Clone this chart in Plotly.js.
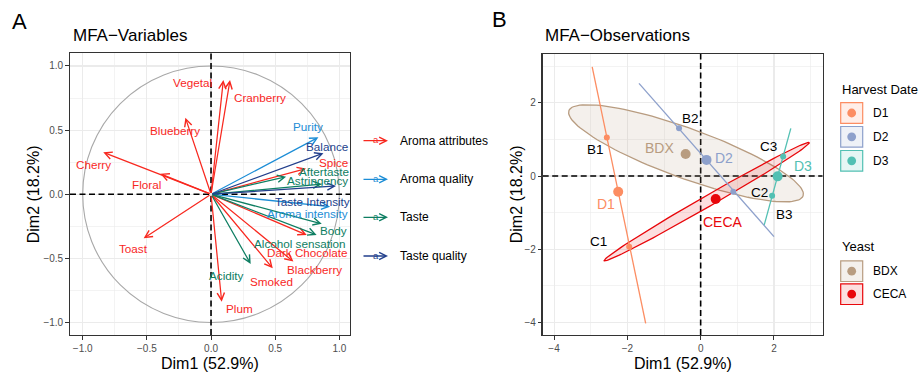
<!DOCTYPE html>
<html>
<head>
<meta charset="utf-8">
<script src="https://cdn.plot.ly/plotly-3.0.1.min.js"></script>
<style>html,body{margin:0;padding:0;background:#fff;}#chart{width:921px;height:372px;}</style>
</head>
<body>
<div id="chart"></div>
<script>
// ---------------- DATA ----------------
// Panel A: MFA variables (coordinates on Dim1 / Dim2)
const variables = ['Vegetal','Cranberry','Blueberry','Cherry','Floral','Toast','Spice','Dark Chocolate','Blackberry','Smoked','Plum',
                   'Purity','Aroma intensity',
                   'Aftertaste','Astringency','Body','Alcohol sensation','Acidity',
                   'Balance','Taste Intensity'];
const varGroup = ['Aroma attributes','Aroma attributes','Aroma attributes','Aroma attributes','Aroma attributes','Aroma attributes','Aroma attributes','Aroma attributes','Aroma attributes','Aroma attributes','Aroma attributes',
                  'Aroma quality','Aroma quality',
                  'Taste','Taste','Taste','Taste','Taste',
                  'Taste quality','Taste quality'];
const varDim1 = [0.096, 0.148, -0.200, -0.840, -0.395, -0.525, 0.740, 0.746, 0.642, 0.481, 0.083,
                 0.837, 0.928,
                 0.863, 0.585, 0.863, 0.823, 0.309,
                 0.876, 0.974];
const varDim2 = [0.890, 0.890, 0.597, 0.327, 0.160, -0.343, 0.200, -0.317, -0.525, -0.577, -0.837,
                 0.444, -0.097,
                 0.080, 0.137, -0.230, -0.317, -0.543,
                 0.320, 0.065];
// label anchor positions (data units) as placed in the reference
const labelDim1 = [-0.148, 0.384, -0.283, -0.914, -0.499, -0.608, 0.951, 0.748, 0.808, 0.470, 0.223,
                   0.753, 0.748,
                   0.878, 0.831, 0.956, 0.696, 0.119,
                   0.904, 0.787];
const labelDim2 = [0.875, 0.758, 0.499, 0.234, 0.075, -0.423, 0.244, -0.457, -0.587, -0.683, -0.891,
                   0.525, -0.151,
                   0.174, 0.109, -0.281, -0.384, -0.631,
                   0.369, -0.060];
const groupNames = ['Aroma attributes','Aroma quality','Taste','Taste quality'];

// Panel B: individuals
const indNames = ['B1','C1','B2','C2','B3','C3'];
const indHarvest = ['D1','D1','D2','D2','D3','D3'];
const indDim1 = [-2.56, -1.95, -0.59, 0.89, 1.95, 2.25];
const indDim2 = [1.05, -1.93, 1.30, -0.43, -0.54, 0.53];
const indLabelDim1 = [-2.88, -2.79, -0.27, 1.60, 2.30, 1.845];
const indLabelDim2 = [0.71, -1.79, 1.57, -0.45, -1.04, 0.80];

const harvestNames = ['D1','D2','D3'];
const harvestMeanDim1 = [-2.25, 0.16, 2.10];
const harvestMeanDim2 = [-0.43, 0.44, -0.01];
const harvestLabelDim1 = [-2.58, 0.635, 2.80];
const harvestLabelDim2 = [-0.76, 0.482, 0.27];
// degenerate (two-point) confidence ellipses = segments
const harvestLineDim1 = [[-2.96, -1.50], [-1.683, 2.00], [1.735, 2.46]];
const harvestLineDim2 = [[2.98, -4.02], [2.53, -1.655], [-1.336, 1.30]];

const yeastNames = ['BDX','CECA'];
const yeastMeanDim1 = [-0.41, 0.41];
const yeastMeanDim2 = [0.60, -0.63];
const yeastLabelDim1 = [-1.11, 0.618];
const yeastLabelDim2 = [0.755, -1.245];
// ellipse geometry: centre, semi-axes, rotation (deg)
const yeastEllCx = [-0.40, 0.165];
const yeastEllCy = [0.62, -0.70];
const yeastEllA = [3.40, 3.23];
const yeastEllB = [0.68, 0.15];
const yeastEllAng = [-20.0, 29.94];

// ---------------- STYLE ----------------
const W = 921, H = 372;
const px = x => x / W;
const py = y => 1 - y / H;
const FONT = 'Liberation Sans, Arial, Helvetica, sans-serif';
const groupColor = {'Aroma attributes':'#F8281F','Aroma quality':'#1C8DD6','Taste':'#0E7E62','Taste quality':'#223F8C'};
const harvestColor = {'D1':'#FC8D62','D2':'#8DA0CB','D3':'#52C0B3'};
const harvestFill = {'D1':'rgba(252,141,98,0.15)','D2':'rgba(141,160,203,0.15)','D3':'rgba(82,192,179,0.15)'};
const yeastColor = {'BDX':'#B89C80','CECA':'#E8070B'};
const yeastFill = {'BDX':'rgba(184,156,128,0.15)','CECA':'rgba(232,7,11,0.13)'};
const XR1 = [-1.099, 1.083], YR1 = [-1.097, 1.101];
const XR2 = [-4.31, 3.33], YR2 = [-4.34, 3.33];
const DASH = {color:'#000', width:1.6, dash:'6px,3.5px'};

const traces = [];
const annotations = [];
const shapes = [];

// ---------- Panel A ----------
shapes.push({type:'circle', xref:'x', yref:'y', x0:-1, x1:1, y0:-1, y1:1, line:{color:'#A8A8A8', width:1.1}, layer:'between'});
shapes.push({type:'line', xref:'x', yref:'y', x0:0, x1:0, y0:YR1[0], y1:YR1[1], line:DASH, layer:'between'});
shapes.push({type:'line', xref:'x', yref:'y', x0:XR1[0], x1:XR1[1], y0:0, y1:0, line:DASH, layer:'between'});
// invisible trace to anchor axes
traces.push({type:'scatter', x:varDim1, y:varDim2, xaxis:'x', yaxis:'y', mode:'markers', marker:{opacity:0}, hoverinfo:'skip', showlegend:false});

variables.forEach((v, i) => {
  const c = groupColor[varGroup[i]];
  annotations.push({x:varDim1[i], y:varDim2[i], ax:0, ay:0, xref:'x', yref:'y', axref:'x', ayref:'y',
    text:'', showarrow:true, arrowhead:5, arrowsize:1.15, arrowwidth:1.25, arrowcolor:c, standoff:0});
});
variables.forEach((v, i) => {
  annotations.push({x:labelDim1[i], y:labelDim2[i], xref:'x', yref:'y', text:v, showarrow:false,
    xanchor:'center', yanchor:'middle', font:{family:FONT, size:11.7, color:groupColor[varGroup[i]]}});
});

// Legend A
const legAy = [140.7, 179.3, 217.3, 256];
groupNames.forEach((g, i) => {
  const c = groupColor[g];
  annotations.push({x:px(388), y:py(legAy[i]), xref:'paper', yref:'paper', ax:-26, ay:0, text:'', showarrow:true,
    arrowhead:5, arrowsize:1.1, arrowwidth:1.3, arrowcolor:c, standoff:0});
  annotations.push({x:px(375.5), y:py(legAy[i] - 0.8), xref:'paper', yref:'paper', text:'a', showarrow:false,
    xanchor:'center', yanchor:'middle', font:{family:FONT, size:9.5, color:c}});
  annotations.push({x:px(398), y:py(legAy[i]), xref:'paper', yref:'paper', text:g, showarrow:false,
    xanchor:'left', yanchor:'middle', font:{family:FONT, size:12, color:'#000'}});
});

// ---------- Panel B ----------
shapes.push({type:'line', xref:'x2', yref:'y2', x0:0, x1:0, y0:YR2[0], y1:YR2[1], line:DASH, layer:'between'});
shapes.push({type:'line', xref:'x2', yref:'y2', x0:XR2[0], x1:XR2[1], y0:0, y1:0, line:DASH, layer:'between'});

function ellipse(cx, cy, a, b, angDeg) {
  const t = angDeg * Math.PI / 180, xs = [], ys = [];
  for (let k = 0; k <= 120; k++) {
    const s = 2 * Math.PI * k / 120;
    const u = a * Math.cos(s), v = b * Math.sin(s);
    xs.push(cx + u * Math.cos(t) - v * Math.sin(t));
    ys.push(cy + u * Math.sin(t) + v * Math.cos(t));
  }
  return [xs, ys];
}
yeastNames.forEach((g, i) => {
  const [ex, ey] = ellipse(yeastEllCx[i], yeastEllCy[i], yeastEllA[i], yeastEllB[i], yeastEllAng[i]);
  traces.push({type:'scatter', x:ex, y:ey, xaxis:'x2', yaxis:'y2', mode:'lines', fill:'toself',
    fillcolor:yeastFill[g], line:{color:yeastColor[g], width:1.3}, hoverinfo:'skip', showlegend:false});
});
harvestNames.forEach((h, i) => {
  traces.push({type:'scatter', x:harvestLineDim1[i], y:harvestLineDim2[i], xaxis:'x2', yaxis:'y2', mode:'lines',
    line:{color:harvestColor[h], width:1.3}, hoverinfo:'skip', showlegend:false});
});
traces.push({type:'scatter', x:indDim1, y:indDim2, xaxis:'x2', yaxis:'y2', mode:'markers',
  marker:{size:6, color:indHarvest.map(h => harvestColor[h])}, hoverinfo:'skip', showlegend:false});
traces.push({type:'scatter', x:harvestMeanDim1, y:harvestMeanDim2, xaxis:'x2', yaxis:'y2', mode:'markers',
  marker:{size:10, color:harvestNames.map(h => harvestColor[h])}, hoverinfo:'skip', showlegend:false});
traces.push({type:'scatter', x:yeastMeanDim1, y:yeastMeanDim2, xaxis:'x2', yaxis:'y2', mode:'markers',
  marker:{size:10, color:yeastNames.map(g => yeastColor[g])}, hoverinfo:'skip', showlegend:false});

indNames.forEach((n, i) => {
  annotations.push({x:indLabelDim1[i], y:indLabelDim2[i], xref:'x2', yref:'y2', text:n, showarrow:false,
    xanchor:'center', yanchor:'middle', font:{family:FONT, size:13.5, color:'#000'}});
});
harvestNames.forEach((h, i) => {
  annotations.push({x:harvestLabelDim1[i], y:harvestLabelDim2[i], xref:'x2', yref:'y2', text:h, showarrow:false,
    xanchor:'center', yanchor:'middle', font:{family:FONT, size:14, color:harvestColor[h]}});
});
yeastNames.forEach((g, i) => {
  annotations.push({x:yeastLabelDim1[i], y:yeastLabelDim2[i], xref:'x2', yref:'y2', text:g, showarrow:false,
    xanchor:'center', yanchor:'middle', font:{family:FONT, size:14, color:yeastColor[g]}});
});

// Legend B
function legendKey(yc, col, fill) {
  shapes.push({type:'rect', xref:'paper', yref:'paper', x0:px(840.7), x1:px(862.7), y0:py(yc + 10.3), y1:py(yc - 10.3),
    line:{color:col, width:1.2}, fillcolor:fill});
  shapes.push({type:'circle', xref:'paper', yref:'paper', x0:px(851.7 - 4.4), x1:px(851.7 + 4.4), y0:py(yc + 4.4), y1:py(yc - 4.4),
    line:{width:0}, fillcolor:col});
}
annotations.push({x:px(840), y:py(89.5), xref:'paper', yref:'paper', text:'Harvest Date', showarrow:false,
  xanchor:'left', yanchor:'middle', font:{family:FONT, size:13, color:'#000'}});
const legBy = [113, 136.8, 160.8];
harvestNames.forEach((h, i) => {
  legendKey(legBy[i], harvestColor[h], harvestFill[h]);
  annotations.push({x:px(870.5), y:py(legBy[i]), xref:'paper', yref:'paper', text:h, showarrow:false,
    xanchor:'left', yanchor:'middle', font:{family:FONT, size:12, color:'#000'}});
});
annotations.push({x:px(840), y:py(246), xref:'paper', yref:'paper', text:'Yeast', showarrow:false,
  xanchor:'left', yanchor:'middle', font:{family:FONT, size:13, color:'#000'}});
const legYy = [271.2, 294.2];
yeastNames.forEach((g, i) => {
  legendKey(legYy[i], yeastColor[g], yeastFill[g]);
  annotations.push({x:px(870.5), y:py(legYy[i]), xref:'paper', yref:'paper', text:g, showarrow:false,
    xanchor:'left', yanchor:'middle', font:{family:FONT, size:12, color:'#000'}});
});

// Titles, panel letters, axis titles
const txt = (x, y, t, size, opts={}) => annotations.push(Object.assign({x:px(x), y:py(y), xref:'paper', yref:'paper', text:t, showarrow:false,
  xanchor:'center', yanchor:'middle', font:{family:FONT, size:size, color:'#000'}}, opts));
txt(19.5, 21.5, 'A', 22);
txt(499, 20, 'B', 22);
txt(70.5, 35.5, 'MFA−Variables', 17, {xanchor:'left'});
txt(542.5, 35.5, 'MFA−Observations', 17, {xanchor:'left'});
txt(210, 363, 'Dim1 (52.9%)', 16);
txt(682.5, 363, 'Dim1 (52.9%)', 16);
txt(33, 194.3, 'Dim2 (18.2%)', 16, {textangle:-90});
txt(516, 194.3, 'Dim2 (18.2%)', 16, {textangle:-90});

// ---------------- LAYOUT ----------------
const axBase = {
  showgrid:true, gridcolor:'#EBEBEB', gridwidth:1.1, zeroline:false,
  showline:true, mirror:true, linecolor:'#333333', linewidth:1.3,
  ticks:'outside', ticklen:3.5, tickwidth:1, tickcolor:'#333333',
  tickfont:{family:FONT, size:10, color:'#4D4D4D'}, fixedrange:true
};
const layout = {
  width:W, height:H, margin:{l:0, r:0, t:0, b:0}, paper_bgcolor:'#fff', plot_bgcolor:'rgba(0,0,0,0)',
  showlegend:false,
  xaxis:Object.assign({}, axBase, {domain:[px(70), px(350)], range:XR1, tickvals:[-1,-0.5,0,0.5,1], tickformat:'.1f',
    minor:{dtick:0.25, tick0:0, showgrid:true, gridcolor:'#EBEBEB', gridwidth:0.6, ticklen:0}, anchor:'y'}),
  yaxis:Object.assign({}, axBase, {domain:[py(335), py(53)], range:YR1, tickvals:[-1,-0.5,0,0.5,1], tickformat:'.1f',
    minor:{dtick:0.25, tick0:0, showgrid:true, gridcolor:'#EBEBEB', gridwidth:0.6, ticklen:0}, anchor:'x'}),
  xaxis2:Object.assign({}, axBase, {domain:[px(542.7), px(822.7)], range:XR2, tickvals:[-4,-2,0,2],
    minor:{dtick:1, tick0:0, showgrid:true, gridcolor:'#EBEBEB', gridwidth:0.6, ticklen:0}, anchor:'y2'}),
  yaxis2:Object.assign({}, axBase, {domain:[py(335), py(54)], range:YR2, tickvals:[-4,-2,0,2],
    minor:{dtick:1, tick0:0, showgrid:true, gridcolor:'#EBEBEB', gridwidth:0.6, ticklen:0}, anchor:'x2'}),
  shapes:shapes, annotations:annotations
};
Plotly.newPlot('chart', traces, layout, {staticPlot:true, displayModeBar:false});
</script>
</body>
</html>
